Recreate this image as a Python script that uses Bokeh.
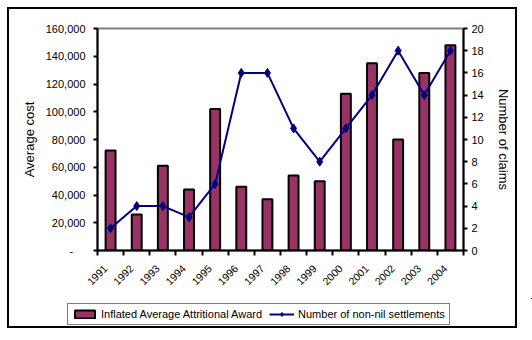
import math
from bokeh.plotting import figure
from bokeh.layouts import column
from bokeh.models import (Range1d, LinearAxis, FixedTicker, NumeralTickFormatter,
                          Legend, LegendItem, ColumnDataSource)
from bokeh.embed import file_html
from bokeh.resources import INLINE

years = ["1991", "1992", "1993", "1994", "1995", "1996", "1997", "1998",
         "1999", "2000", "2001", "2002", "2003", "2004"]
award = [72000, 26000, 61000, 44000, 102000, 46000, 37000, 54000,
         50000, 113000, 135000, 80000, 128000, 148000]
claims = [2, 4, 4, 3, 6, 16, 16, 11, 8, 11, 14, 18, 14, 18]
cost_ticks = [0, 20000, 40000, 60000, 80000, 100000, 120000, 140000, 160000]
claim_ticks = [0, 2, 4, 6, 8, 10, 12, 14, 16, 18, 20]
series_names = ["Inflated Average Attritional Award", "Number of non-nil settlements"]

FONT = "Liberation Sans"
BAR = "#993366"
LINE = "#000080"

xc = [i + 0.5 for i in range(len(years))]
label_pos = [i + 0.3 for i in range(len(years))]
src = ColumnDataSource(dict(x=xc, award=award, claims=claims, year=years))

p = figure(width=532, height=298, output_backend="svg", toolbar_location=None,
           x_range=Range1d(0, len(years)), y_range=Range1d(0, 160000),
           min_border_left=97, min_border_right=69, min_border_top=28,
           min_border_bottom=48, background_fill_color="white",
           border_fill_color="white")
p.extra_y_ranges = {"claims": Range1d(0, 20)}
p.xgrid.visible = False
p.ygrid.visible = False
p.outline_line_color = "#808080"
p.outline_line_width = 2

bar_style = dict(fill_color=BAR, line_color="black", line_width=2)
line_style = dict(line_color=LINE, line_width=2)
mark_style = dict(marker="diamond", size=9, fill_color=LINE, line_color=LINE)

p.vbar(x="x", top="award", width=0.38, source=src, **bar_style)
p.line(x="x", y="claims", source=src, y_range_name="claims", **line_style)
p.scatter(x="x", y="claims", source=src, y_range_name="claims", **mark_style)

# x axis
xa = p.xaxis[0]
xa.ticker = FixedTicker(ticks=label_pos, minor_ticks=list(range(len(years) + 1)))
xa.major_label_overrides = {x: y for x, y in zip(label_pos, years)}
xa.major_tick_out = 0
xa.major_tick_in = 0
xa.minor_tick_out = 5
xa.minor_tick_in = 0
xa.minor_tick_line_color = "black"
xa.minor_tick_line_width = 2
xa.axis_line_width = 2
xa.major_label_orientation = math.pi / 4
xa.major_label_text_font = FONT
xa.major_label_text_font_size = "10.5px"
xa.major_label_text_color = "black"
xa.major_label_standoff = 11

# left axis
ya = p.yaxis[0]
ya.ticker = FixedTicker(ticks=cost_ticks)
ya.formatter = NumeralTickFormatter(format="0,0")
ya.major_label_overrides = {0: "-\u00a0\u00a0\u00a0\u00a0"}
ya.minor_tick_out = 0
ya.minor_tick_in = 0
ya.major_tick_out = 4
ya.major_tick_in = 0
ya.major_tick_line_width = 2
ya.axis_line_width = 2
ya.major_label_text_font = FONT
ya.major_label_text_font_size = "11px"
ya.major_label_text_color = "black"
ya.major_label_standoff = 8
ya.axis_label = "Average cost"
ya.axis_label_text_font = FONT
ya.axis_label_text_font_size = "13px"
ya.axis_label_text_font_style = "normal"
ya.axis_label_text_color = "black"
ya.axis_label_standoff = 6

# right axis
ra = LinearAxis(y_range_name="claims", ticker=FixedTicker(ticks=claim_ticks))
ra.minor_tick_out = 0
ra.minor_tick_in = 0
ra.major_tick_out = 4
ra.major_tick_in = 0
ra.major_tick_line_width = 2
ra.axis_line_width = 2
ra.major_label_text_font = FONT
ra.major_label_text_font_size = "11px"
ra.major_label_text_color = "black"
ra.major_label_standoff = 4
ra.axis_label = "Number of claims"
ra.axis_label_text_font = FONT
ra.axis_label_text_font_size = "13px"
ra.axis_label_text_font_style = "normal"
ra.axis_label_text_color = "black"
ra.axis_label_standoff = 9
p.add_layout(ra, "right")

# legend strip (separate figure so the legend is not clipped by the plot frame);
# its renderers hold the real series but the ranges keep them out of view
lp = figure(width=532, height=42, output_backend="svg", toolbar_location=None,
            x_range=Range1d(-1000, -999), y_range=Range1d(-1000, -999),
            x_axis_location=None, y_axis_location=None,
            min_border_left=0, min_border_right=0, min_border_top=0,
            min_border_bottom=0, background_fill_color="white",
            border_fill_color="white", outline_line_color=None)
lp.xgrid.visible = False
lp.ygrid.visible = False
for fig in (p, lp):
    try:
        fig.frame_align = False
    except Exception:
        pass
lb = lp.vbar(x="x", top="award", width=0.38, source=src, **bar_style)
ll = lp.line(x="x", y="claims", source=src, **line_style)
lm = lp.scatter(x="x", y="claims", source=src, **mark_style)

legend = Legend(items=[LegendItem(label=series_names[0], renderers=[lb]),
                       LegendItem(label=series_names[1], renderers=[ll, lm])],
                orientation="horizontal", location=(67, 15),
                label_text_font=FONT, label_text_font_size="11px",
                label_text_color="black", glyph_width=25, glyph_height=10,
                label_standoff=4, spacing=7, padding=4, margin=0,
                border_line_color="black", border_line_width=1,
                background_fill_color="white", background_fill_alpha=1)
lp.add_layout(legend, "center")

layout = column(p, lp, spacing=0)
layout.stylesheets = [
    ":host::after { content: ''; position: absolute; left: 7px; top: 7px; "
    "width: 506px; height: 317px; border: 2px solid black; pointer-events: none; "
    "box-sizing: content-box; }",
]

open("out.html", "w").write(file_html(layout, INLINE))
